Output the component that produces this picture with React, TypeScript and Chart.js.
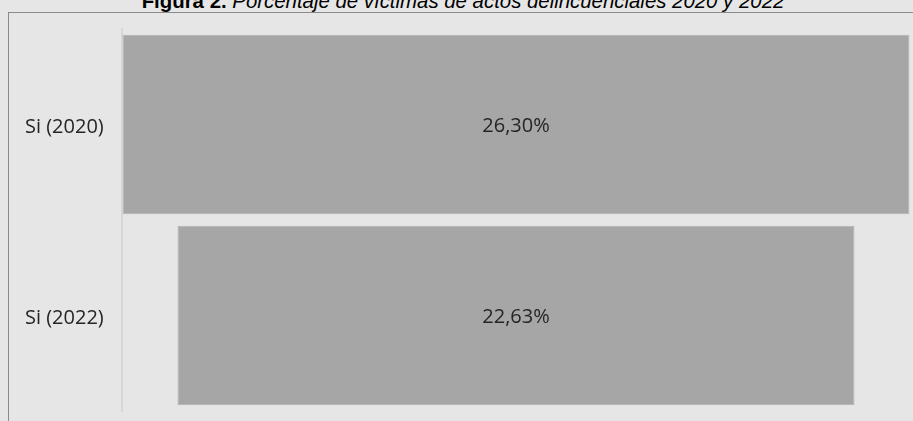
import React, { useEffect, useRef } from "react";
import { Chart, registerables } from "chart.js";

Chart.register(...registerables);

const categories: string[] = ["Si (2020)", "Si (2022)"];
const values: number[] = [26.3, 22.63];
const titleBold = "Figura 2.";
const titleItalic = "Porcentaje de víctimas de actos delincuenciales 2020 y 2022";

const FONT = "'Open Sans', 'Noto Sans', sans-serif";

const fmt = (v: number) => v.toFixed(2).replace(".", ",") + "%";

const dataLabelPlugin = {
  id: "funnelLabels",
  afterDatasetsDraw(chart: any) {
    const ctx = chart.ctx;
    const meta = chart.getDatasetMeta(0);
    ctx.save();
    ctx.font = `20px ${FONT}`;
    ctx.fillStyle = "#252525";
    ctx.textAlign = "center";
    ctx.textBaseline = "middle";
    meta.data.forEach((bar: any, i: number) => {
      const p = bar.getProps(["x", "y", "base"], true);
      const cx = (p.x + p.base) / 2;
      ctx.fillText(fmt(values[i]), cx, p.y + 2);
    });
    ctx.restore();
  },
};

export default function App() {
  const ref = useRef<HTMLCanvasElement | null>(null);

  useEffect(() => {
    if (!ref.current) return;
    const maxV = Math.max(...values);
    const chart = new Chart(ref.current, {
      type: "bar",
      data: {
        labels: categories,
        datasets: [
          {
            data: values.map((v) => [-v / 2, v / 2]) as any,
            backgroundColor: "#a6a6a6",
            borderColor: "#b2b2b2",
            borderWidth: 1,
            borderSkipped: false,
            categoryPercentage: 1,
            barPercentage: 0.94,
          },
        ],
      },
      options: {
        indexAxis: "y",
        animation: false,
        responsive: false,
        maintainAspectRatio: false,
        layout: { padding: { left: 25, right: 3, top: 29, bottom: 10 } },
        plugins: {
          legend: { display: false },
          tooltip: { enabled: false },
          title: { display: false },
        },
        scales: {
          x: {
            display: false,
            min: -maxV / 2 - 0.02,
            max: maxV / 2 + 0.02,
          },
          y: {
            grid: { display: false, drawTicks: false },
            border: { display: true, color: "#d6d6d6", width: 2 },
            ticks: {
              font: { family: FONT, size: 20 },
              color: "#252525",
              crossAlign: "far",
              padding: 0,
              labelOffset: 3,
            },
            afterFit: (scale: any) => {
              scale.width = 97;
              scale.paddingTop = 0;
              scale.paddingBottom = 0;
            },
          },
        },
      },
      plugins: [dataLabelPlugin],
    });
    return () => chart.destroy();
  }, []);

  return (
    <div
      style={{
        position: "fixed",
        left: 0,
        top: 0,
        width: 913,
        height: 421,
        overflow: "hidden",
        background: "#e6e6e6",
      }}
    >
      <div
        style={{
          position: "absolute",
          left: 8,
          top: 12,
          width: 1000,
          height: 500,
          borderLeft: "1px solid #8a8a8a",
          borderTop: "1px solid #8a8a8a",
        }}
      />
      <div
        style={{
          position: "absolute",
          left: 0,
          top: -9,
          width: 926,
          textAlign: "center",
          whiteSpace: "nowrap",
          fontFamily: "'Liberation Sans', Arial, sans-serif",
          fontSize: 20.4,
          lineHeight: "20px",
          color: "#000",
        }}
      >
        <span style={{ fontWeight: "bold" }}>{titleBold}</span>{" "}
        <span style={{ fontStyle: "italic" }}>{titleItalic}</span>
      </div>
      <canvas
        ref={ref}
        width={913}
        height={421}
        style={{ position: "absolute", left: 0, top: 0, width: 913, height: 421 }}
      />
    </div>
  );
}
